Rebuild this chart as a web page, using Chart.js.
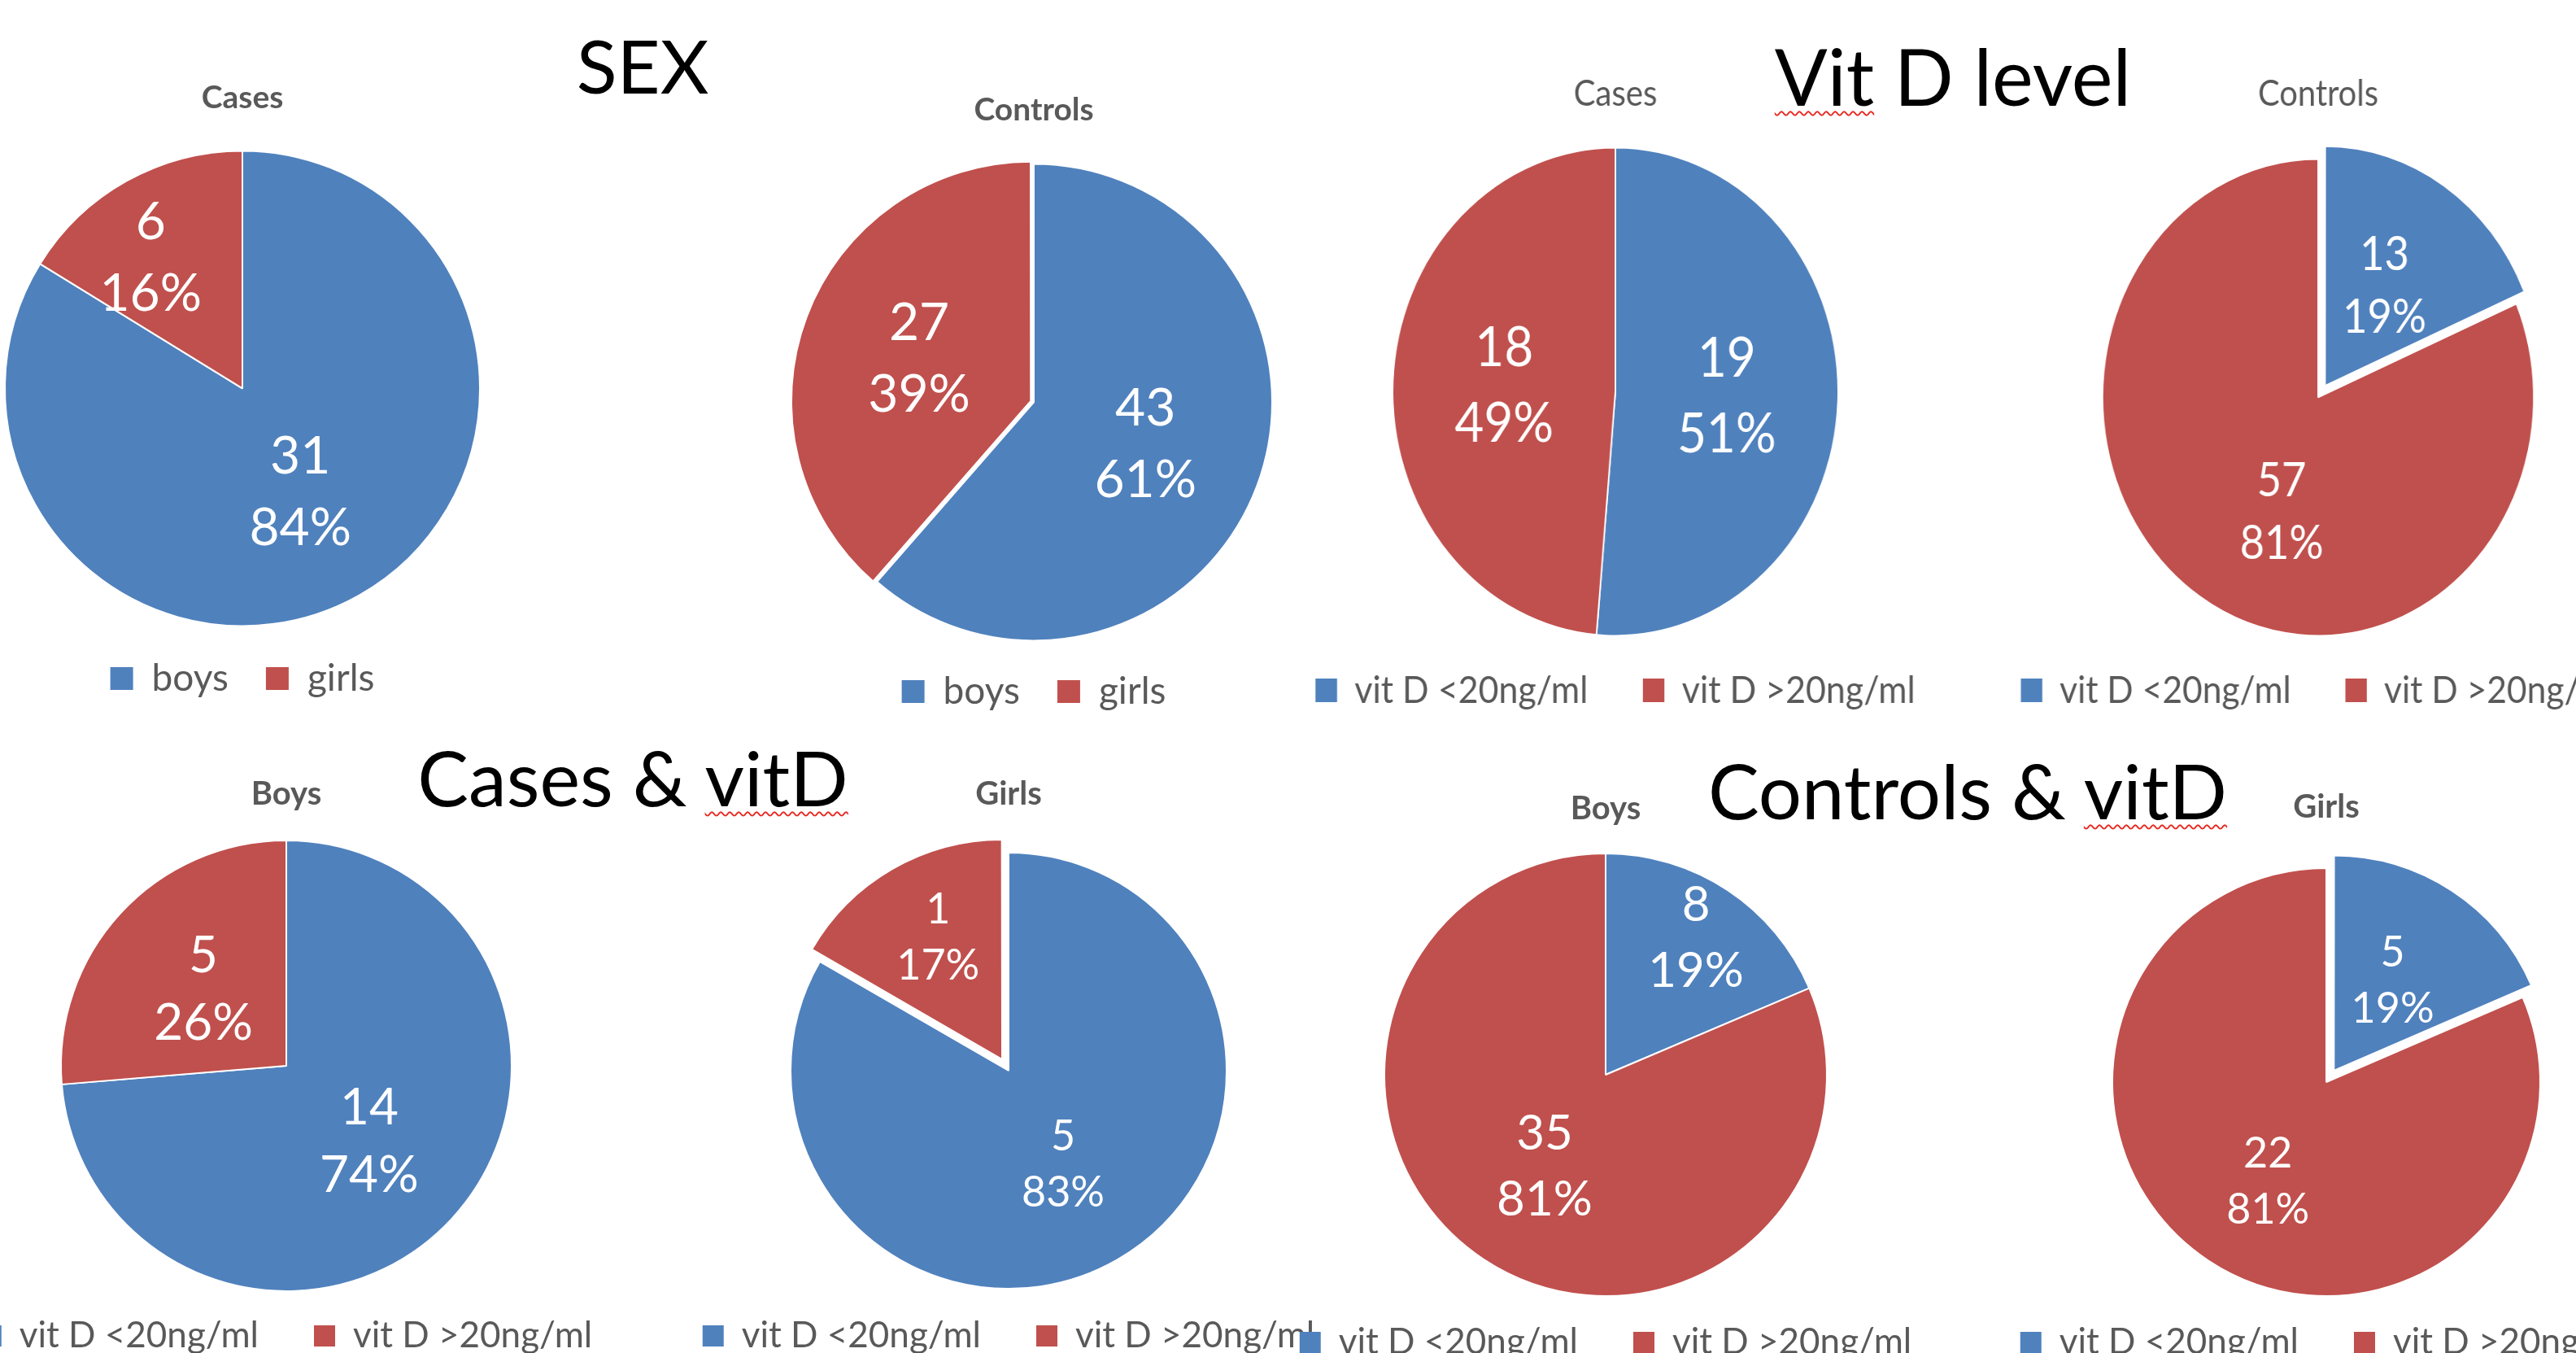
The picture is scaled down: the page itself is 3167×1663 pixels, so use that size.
<!DOCTYPE html>
<html>
<head>
<meta charset="utf-8">
<title>Sex and vitamin D status – cases and controls</title>
<script src="https://cdn.jsdelivr.net/npm/chart.js@4.4.1/dist/chart.umd.min.js"></script>
<style>
  html, body { margin: 0; padding: 0; background: #fff; }
  body { width: 3167px; height: 1663px; overflow: hidden; position: relative; font-family: Lato, "Noto Sans", sans-serif; }
  .head { position: absolute; transform: translateX(-50%); white-space: nowrap; color: #000; line-height: 1; font-weight: 400; }
  .spell { text-decoration: underline wavy #e8261e; text-decoration-thickness: 2px; text-underline-offset: 6px; }
  .panel { position: absolute; }
  .panel canvas { display: block; }
</style>
</head>
<body>
<script>
// ---- data ----
const sexLabels = ['boys', 'girls'];
const vitLabels = ['vit D <20ng/ml', 'vit D >20ng/ml'];

const sexCases = [31, 6];
const sexControls = [43, 27];
const vitCases = [19, 18];
const vitControls = [13, 57];
const casesBoysVit = [14, 5];
const casesGirlsVit = [5, 1];
const controlsBoysVit = [8, 35];
const controlsGirlsVit = [5, 22];

const panelTitles = ['Cases', 'Controls', 'Cases', 'Controls', 'Boys', 'Girls', 'Boys', 'Girls'];
const sectionTitles = ['SEX', 'Vit D level', 'Cases & vitD', 'Controls & vitD'];

const sliceColors = ['#4F81BD', '#C0504D'];

// The arc element only moves a slice out by a quarter of its `offset` option.
const ARC_OFFSET_SCALE = 4;

// ---- section headings ----
// x = centre, base = text baseline, size = font size
const headLayout = [
  { x: 790,  base: 116,  size: 92, spell: null },
  { x: 2401, base: 130,  size: 96, spell: 'Vit' },
  { x: 778,  base: 991,  size: 94, spell: 'vitD' },
  { x: 2419, base: 1007, size: 94, spell: 'vitD' }
];

sectionTitles.forEach((txt, i) => {
  const L = headLayout[i];
  const el = document.createElement('div');
  el.className = 'head';
  el.style.left = L.x + 'px';
  el.style.top = (L.base - 0.887 * L.size) + 'px';
  el.style.fontSize = L.size + 'px';
  if (L.spell) {
    const k = txt.indexOf(L.spell);
    el.appendChild(document.createTextNode(txt.slice(0, k)));
    const s = document.createElement('span');
    s.className = 'spell';
    s.textContent = L.spell;
    el.appendChild(s);
    el.appendChild(document.createTextNode(txt.slice(k + L.spell.length)));
  } else {
    el.textContent = txt;
  }
  document.body.appendChild(el);
});

// ---- value / percentage labels inside the slices ----
const sliceLabelPlugin = {
  id: 'sliceLabels',
  afterDatasetsDraw(chart, args, opts) {
    const meta = chart.getDatasetMeta(0);
    const ds = chart.data.datasets[0];
    const total = ds.data.reduce((a, b) => a + b, 0);
    const ctx = chart.ctx;
    ctx.save();
    ctx.fillStyle = '#ffffff';
    ctx.textAlign = 'center';
    ctx.textBaseline = 'middle';
    ctx.font = `400 ${opts.size}px Lato`;
    meta.data.forEach((arc, i) => {
      const p = arc.getProps(['x', 'y', 'startAngle', 'endAngle', 'outerRadius'], true);
      const mid = (p.startAngle + p.endAngle) / 2 + (opts.turn[i] || 0) * Math.PI / 180;
      const d = opts.explode[i] + opts.frac[i] * p.outerRadius;
      const x = p.x + Math.cos(mid) * d;
      const y = p.y + Math.sin(mid) * d;
      const v = ds.data[i];
      ctx.fillText(String(v), x, y - opts.gap / 2);
      ctx.fillText(Math.round(v / total * 100) + '%', x, y + opts.gap / 2);
    });
    ctx.restore();
  }
};

// ---- panel layout ----
// cx, cy, r : pie centre and radius on the page; sx : horizontal squeeze
// titleY / legendY : vertical middle of title text and legend text
// frac / turn : label distance (share of radius) and angular nudge (deg)
// explode : how far each slice is pulled out (px)
const panels = [
  { labels: sexLabels, values: sexCases,        title: 0, bold: true,  cx: 298,  cy: 477,  r: 292, sx: 1,     titleY: 120, legendY: 834,  tf: 39, lf: 46, pad: 46, box: 28, vf: 64, vl: 88, frac: [0.5, 0.67],  turn: [0, -6],   explode: [0, 0],  border: 2, W: 800 },
  { labels: sexLabels, values: sexControls,     title: 1, bold: true,  cx: 1271, cy: 494,  r: 293, sx: 1,     titleY: 135, legendY: 850,  tf: 39, lf: 46, pad: 46, box: 28, vf: 64, vl: 88, frac: [0.5, 0.5],   turn: [0, 0],    explode: [0, 4],  border: 2, W: 800 },
  { labels: vitLabels, values: vitCases,        title: 2, bold: false, cx: 1986, cy: 481,  r: 300, sx: 0.913, titleY: 115, legendY: 848,  tf: 44, lf: 47, pad: 74, box: 29, vf: 68, vl: 93, frac: [0.5, 0.5],   turn: [0, 0],    explode: [0, 0],  border: 2, W: 960 },
  { labels: vitLabels, values: vitControls,     title: 3, bold: false, cx: 2850, cy: 488,  r: 293, sx: 0.905, titleY: 115, legendY: 848,  tf: 44, lf: 47, pad: 74, box: 29, vf: 58, vl: 77, frac: [0.5, 0.51],  turn: [0, -14],  explode: [17, 0], border: 2, W: 960 },
  { labels: vitLabels, values: casesBoysVit,    title: 4, bold: true,  cx: 352,  cy: 1310, r: 277, sx: 1,     titleY: 976, legendY: 1642, tf: 40, lf: 44, pad: 68, box: 26, vf: 62, vl: 83, frac: [0.5, 0.5],   turn: [0, 0],    explode: [0, 0],  border: 2, W: 900 },
  { labels: vitLabels, values: casesGirlsVit,   title: 5, bold: true,  cx: 1240, cy: 1316, r: 268, sx: 1,     titleY: 976, legendY: 1642, tf: 40, lf: 44, pad: 68, box: 26, vf: 52, vl: 69, frac: [0.5, 0.63],  turn: [0, 2],    explode: [0, 16], border: 2, W: 900 },
  { labels: vitLabels, values: controlsBoysVit, title: 6, bold: true,  cx: 1974, cy: 1321, r: 272, sx: 1,     titleY: 994, legendY: 1650, tf: 40, lf: 44, pad: 68, box: 26, vf: 60, vl: 81, frac: [0.74, 0.5],  turn: [0, 0],    explode: [0, 0],  border: 2, W: 900 },
  { labels: vitLabels, values: controlsGirlsVit,title: 7, bold: true,  cx: 2860, cy: 1330, r: 263, sx: 1,     titleY: 992, legendY: 1650, tf: 40, lf: 44, pad: 68, box: 26, vf: 52, vl: 69, frac: [0.5, 0.54],  turn: [0, -3],   explode: [17, 0], border: 2, W: 900 }
];

function legendItemsWithoutStroke(chart) {
  const base = Chart.overrides.doughnut.plugins.legend.labels.generateLabels;
  return base(chart).map(it => Object.assign(it, { lineWidth: 0, strokeStyle: 'rgba(0,0,0,0)' }));
}

panels.forEach(P => {
  const Lt = P.tf * 1.2;
  const top = P.titleY - Lt / 2;
  const H = Math.round(P.legendY - top + 10 + P.lf / 2);
  const legendTop = H - (P.lf + P.pad + 10);
  const centre = P.cy - top;
  const titleGap = Math.max(0, 2 * centre - legendTop - Lt);

  const wrap = document.createElement('div');
  wrap.className = 'panel';
  wrap.style.left = (P.cx - P.W / 2) + 'px';
  wrap.style.top = top + 'px';
  wrap.style.width = P.W + 'px';
  wrap.style.height = H + 'px';
  if (P.sx !== 1) {
    wrap.style.transform = `scaleX(${P.sx})`;
    wrap.style.transformOrigin = '50% 0';
  }
  const cv = document.createElement('canvas');
  cv.width = P.W;
  cv.height = H;
  wrap.appendChild(cv);
  document.body.appendChild(wrap);

  new Chart(cv, {
    type: 'pie',
    data: {
      labels: P.labels,
      datasets: [{
        data: P.values,
        backgroundColor: sliceColors,
        borderColor: '#ffffff',
        borderWidth: P.border,
        offset: P.explode.map(e => e * ARC_OFFSET_SCALE),
        clip: false
      }]
    },
    options: {
      responsive: false,
      devicePixelRatio: 1,
      animation: false,
      radius: P.r,
      layout: { padding: 0 },
      events: [],
      plugins: {
        title: {
          display: true,
          text: panelTitles[P.title],
          color: '#595959',
          font: { family: 'Lato', size: P.tf, weight: P.bold ? 'bold' : 'normal', lineHeight: 1.2 },
          padding: { top: 0, bottom: titleGap }
        },
        legend: {
          display: true,
          position: 'bottom',
          labels: {
            color: '#595959',
            font: { family: 'Lato', size: P.lf },
            boxWidth: P.box,
            boxHeight: P.box,
            padding: P.pad,
            generateLabels: legendItemsWithoutStroke
          }
        },
        tooltip: { enabled: false },
        sliceLabels: { size: P.vf, gap: P.vl, frac: P.frac, turn: P.turn, explode: P.explode }
      }
    },
    plugins: [sliceLabelPlugin]
  });
});
</script>
</body>
</html>
